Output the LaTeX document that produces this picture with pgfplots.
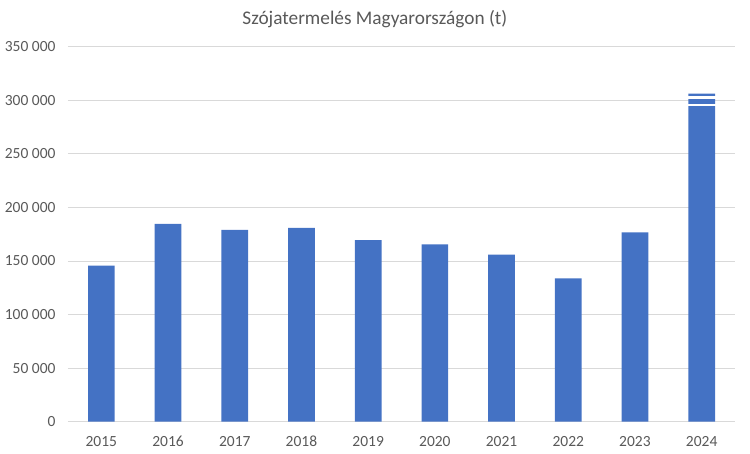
\documentclass[border=0pt]{standalone}
\usepackage{pgfplots}
\pgfplotsset{compat=1.18}
\usepackage{fontspec}
\setmainfont{Carlito}
\definecolor{barblue}{HTML}{4472C4}
\definecolor{gridgray}{HTML}{D9D9D9}
\definecolor{txtgray}{HTML}{595959}
\begin{document}
\begin{tikzpicture}
\path[use as bounding box] (0,0) rectangle (750pt,453pt);
\begin{axis}[
  at={(68pt,31.3pt)}, anchor=south west,
  scale only axis, width=667pt, height=375pt,
  xmin=-0.5, xmax=9.5, ymin=0, ymax=350000,
  ytick={0,50000,100000,150000,200000,250000,300000,350000},
  yticklabels={0,50 000,100 000,150 000,200 000,250 000,300 000,350 000},
  xtick=data,
  xticklabels={2015,2016,2017,2018,2019,2020,2021,2022,2023,2024},
  axis x line*=bottom,
  axis y line*=left,
  x axis line style={draw=gridgray, line width=0.8pt, -},
  y axis line style={draw=none},
  ymajorgrids, grid style={gridgray, line width=0.8pt},
  major tick length=0pt,
  scaled ticks=false,
  tick label style={font=\fontsize{15.5}{18}\selectfont, text=txtgray},
  yticklabel style={anchor=east, xshift=-9pt},
  xticklabel style={anchor=center, yshift=-20pt},
  title={Szójatermelés Magyarországon (t)},
  title style={at={(0.46,1.058)}, anchor=center, font=\fontsize{19.3}{23}\selectfont, text=txtgray},
]
\addplot[ybar, bar width=26.7pt, fill=barblue, draw=none] coordinates {
  (0,145600) (1,184700) (2,179100) (3,180900) (4,169400)
  (5,165600) (6,155900) (7,133800) (8,176600) (9,306300)
};
\addplot[white, line width=2.4pt, forget plot] coordinates {(8.78,302400) (9.22,302400)};
\addplot[white, line width=2.4pt, forget plot] coordinates {(8.78,295400) (9.22,295400)};
\end{axis}
\end{tikzpicture}
\end{document}
